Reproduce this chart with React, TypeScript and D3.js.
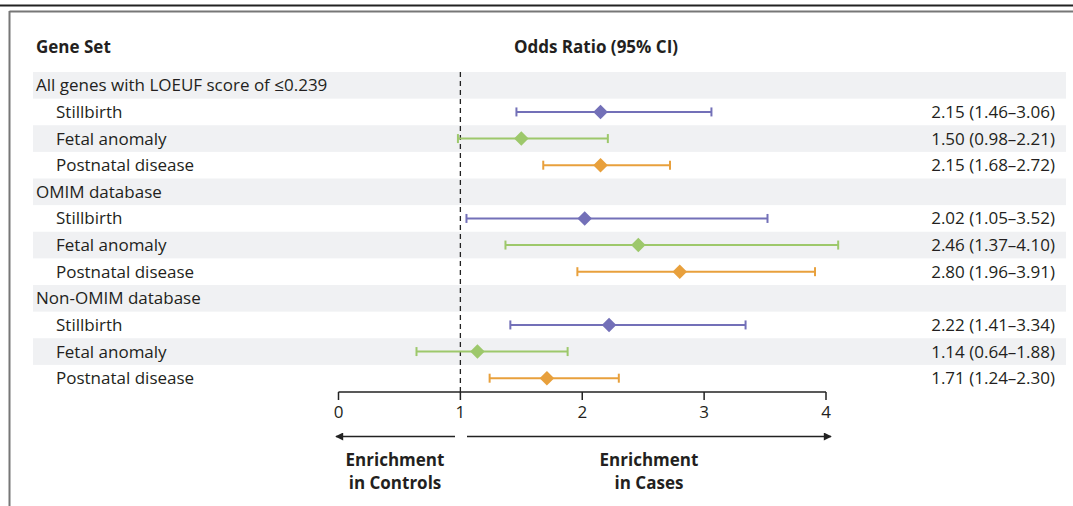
import { useEffect, useRef } from "react";
import * as d3 from "d3";

// Libellés des lignes
const rowLabels = [
  "All genes with LOEUF score of ≤0.239",
  "Stillbirth",
  "Fetal anomaly",
  "Postnatal disease",
  "OMIM database",
  "Stillbirth",
  "Fetal anomaly",
  "Postnatal disease",
  "Non-OMIM database",
  "Stillbirth",
  "Fetal anomaly",
  "Postnatal disease",
];
// null = ligne de groupe
const estimates = [null, 2.15, 1.5, 2.15, null, 2.02, 2.46, 2.8, null, 2.22, 1.14, 1.71];
const lower = [null, 1.46, 0.98, 1.68, null, 1.05, 1.37, 1.96, null, 1.41, 0.64, 1.24];
const upper = [null, 3.06, 2.21, 2.72, null, 3.52, 4.1, 3.91, null, 3.34, 1.88, 2.3];
const outcomes = [null, "Stillbirth", "Fetal anomaly", "Postnatal disease", null, "Stillbirth", "Fetal anomaly", "Postnatal disease", null, "Stillbirth", "Fetal anomaly", "Postnatal disease"];
const ticks = [0, 1, 2, 3, 4];

const W = 1073;
const H = 506;
const font = "'Open Sans', sans-serif";
const fs = 17;

const drawChart = (el: SVGSVGElement) => {
  const svg = d3.select(el);
  svg.selectAll("*").remove();

  const color = d3.scaleOrdinal<string, string>()
    .domain(["Stillbirth", "Fetal anomaly", "Postnatal disease"])
    .range(["#7370b8", "#9dc86b", "#e8a03c"]);

  const x = d3.scaleLinear().domain([0, 4]).range([338.5, 826]);
  const y = d3.scaleBand<number>()
    .domain(d3.range(rowLabels.length))
    .range([72, 391.5]);

  // Cadre
  svg.append("line").attr("x1", 0).attr("x2", W).attr("y1", 5.5).attr("y2", 5.5)
    .attr("stroke", "#222").attr("stroke-width", 2);
  svg.append("line").attr("x1", 9.5).attr("x2", W).attr("y1", 11.5).attr("y2", 11.5)
    .attr("stroke", "#777").attr("stroke-width", 2);
  svg.append("line").attr("x1", 9.5).attr("x2", 9.5).attr("y1", 11).attr("y2", H)
    .attr("stroke", "#777").attr("stroke-width", 2);

  // Bandes grises
  svg.append("g").selectAll("rect")
    .data(d3.range(rowLabels.length).filter(i => i % 2 === 0))
    .join("rect")
    .attr("x", 33).attr("width", 1066 - 33)
    .attr("y", i => y(i)!).attr("height", y.bandwidth())
    .attr("fill", "#f0f1f3");

  // En-têtes
  svg.append("text").attr("x", 36).attr("y", 53).text("Gene Set")
    .attr("font-family", font).attr("font-weight", "bold").attr("font-size", fs).attr("fill", "#231f20");
  svg.append("text").attr("x", 596).attr("y", 53).text("Odds Ratio (95% CI)")
    .attr("text-anchor", "middle")
    .attr("font-family", font).attr("font-weight", "bold").attr("font-size", fs).attr("fill", "#231f20");

  // Libellés
  svg.append("g").selectAll("text")
    .data(rowLabels)
    .join("text")
    .attr("x", (d, i) => (estimates[i] === null ? 36 : 56))
    .attr("y", (d, i) => y(i)! + y.bandwidth() / 2 + 6)
    .attr("font-family", font).attr("font-size", fs).attr("fill", "#231f20")
    .text(d => d);

  // Valeurs à droite
  svg.append("g").selectAll("text")
    .data(d3.range(rowLabels.length).filter(i => estimates[i] !== null))
    .join("text")
    .attr("x", 1055).attr("text-anchor", "end")
    .attr("y", i => y(i)! + y.bandwidth() / 2 + 6)
    .attr("font-family", font).attr("font-size", fs).attr("fill", "#231f20")
    .text(i => `${estimates[i]!.toFixed(2)} (${lower[i]!.toFixed(2)}–${upper[i]!.toFixed(2)})`);

  // Ligne pointillée à 1
  svg.append("line").attr("x1", x(1)).attr("x2", x(1)).attr("y1", 72).attr("y2", 392)
    .attr("stroke", "#222").attr("stroke-width", 1.3).attr("stroke-dasharray", "5,4");

  // Intervalles de confiance
  const ci = svg.append("g").selectAll("g")
    .data(d3.range(rowLabels.length).filter(i => estimates[i] !== null))
    .join("g")
    .attr("transform", i => `translate(0,${y(i)! + y.bandwidth() / 2})`)
    .attr("stroke", i => color(outcomes[i]!))
    .attr("fill", i => color(outcomes[i]!));
  ci.append("line").attr("x1", i => x(lower[i]!)).attr("x2", i => x(upper[i]!))
    .attr("stroke-width", 2);
  ci.append("line").attr("x1", i => x(lower[i]!)).attr("x2", i => x(lower[i]!))
    .attr("y1", -4.5).attr("y2", 4.5).attr("stroke-width", 2);
  ci.append("line").attr("x1", i => x(upper[i]!)).attr("x2", i => x(upper[i]!))
    .attr("y1", -4.5).attr("y2", 4.5).attr("stroke-width", 2);
  ci.append("path")
    .attr("d", d3.symbol(d3.symbolDiamond2, 135)()!)
    .attr("transform", i => `translate(${x(estimates[i]!)},0)`)
    .attr("stroke", "none");

  // Axe
  const axis = svg.append("g").attr("transform", "translate(0,392)");
  axis.append("line").attr("x1", x(0)).attr("x2", x(4)).attr("stroke", "#222").attr("stroke-width", 1.5);
  const tk = axis.selectAll("g.tick").data(ticks).join("g")
    .attr("transform", d => `translate(${x(d)},0)`);
  tk.append("line").attr("y1", 0).attr("y2", 8).attr("stroke", "#222").attr("stroke-width", 1.5);
  tk.append("text").attr("y", 26).attr("text-anchor", "middle")
    .attr("font-family", font).attr("font-size", fs).attr("fill", "#231f20")
    .text(d => d);

  // Flèches
  const defs = svg.append("defs");
  defs.append("marker").attr("id", "arrow").attr("viewBox", "0 0 10 10")
    .attr("refX", 9).attr("refY", 5).attr("markerWidth", 11).attr("markerHeight", 8)
    .attr("markerUnits", "userSpaceOnUse").attr("orient", "auto")
    .append("path").attr("d", "M0,0 L10,5 L0,10 Z").attr("fill", "#222");
  svg.append("line").attr("x1", 455).attr("x2", 336).attr("y1", 436.5).attr("y2", 436.5)
    .attr("stroke", "#222").attr("stroke-width", 1.5).attr("marker-end", "url(#arrow)");
  svg.append("line").attr("x1", 467).attr("x2", 831).attr("y1", 436.5).attr("y2", 436.5)
    .attr("stroke", "#222").attr("stroke-width", 1.5).attr("marker-end", "url(#arrow)");

  const notes = [
    { cx: 395, lines: ["Enrichment", "in Controls"] },
    { cx: 649, lines: ["Enrichment", "in Cases"] },
  ];
  notes.forEach(n => {
    n.lines.forEach((l, k) => {
      svg.append("text").attr("x", n.cx).attr("y", 466 + k * 23).attr("text-anchor", "middle")
        .attr("font-family", font).attr("font-weight", "bold").attr("font-size", fs).attr("fill", "#231f20")
        .text(l);
    });
  });
};

export default function App() {
  const ref = useRef<SVGSVGElement>(null);
  useEffect(() => {
    if (ref.current) drawChart(ref.current);
  }, []);
  return (
    <svg ref={ref} width={W} height={H}
      style={{ position: "absolute", left: 0, top: 0, background: "#fff" }} />
  );
}
